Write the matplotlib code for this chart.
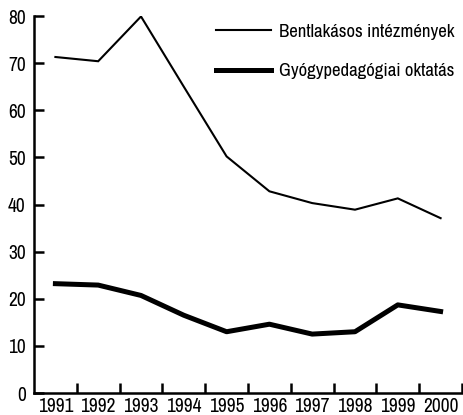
import matplotlib
matplotlib.use("Agg")
import matplotlib.pyplot as plt

years = ["1991", "1992", "1993", "1994", "1995", "1996", "1997", "1998", "1999", "2000"]
bentlakasos = [71.3, 70.4, 79.9, 65.0, 50.2, 42.8, 40.3, 38.9, 41.3, 37.1]
gyogyped = [23.2, 22.9, 20.7, 16.5, 13.0, 14.6, 12.5, 13.0, 18.7, 17.3]
label_b = "Bentlakásos intézmények"
label_g = "Gyógypedagógiai oktatás"
yticks = [0, 10, 20, 30, 40, 50, 60, 70, 80]

plt.rcParams['font.family'] = ["Archivo Narrow", "DejaVu Sans"]

fig = plt.figure(figsize=(4.63, 4.15), dpi=100)
ax = fig.add_axes([34/463, 22/415, 428/463, 377/415])

xs = [i + 0.5 for i in range(len(years))]
ax.plot(xs, bentlakasos, color="black", lw=1.5, label=label_b, solid_joinstyle="miter")
ax.plot(xs, gyogyped, color="black", lw=3.6, label=label_g, solid_joinstyle="round")

ax.set_xlim(0, len(years))
ax.set_ylim(0, 80)
ax.set_yticks(yticks)
ax.set_xticks(range(1, len(years) + 1))
ax.set_xticklabels([])
ax.set_xticks(xs, minor=True)
ax.set_xticklabels(years, minor=True)

for s in ["top", "right"]:
    ax.spines[s].set_visible(False)
for s in ["left", "bottom"]:
    ax.spines[s].set_linewidth(1.8)

ax.tick_params(axis="both", which="major", direction="in", length=7, width=1.8, labelsize=14, colors="black")
ax.tick_params(axis="y", pad=6)
ax.tick_params(axis="x", which="minor", length=0, pad=3, labelsize=14)

leg = ax.legend(loc="upper right", bbox_to_anchor=(1.0, 1.0), frameon=False, fontsize=13.5,
                handlelength=2.9, handletextpad=0.45, labelspacing=1.25, borderaxespad=0.0)

fig.savefig("out.png", dpi=100)
